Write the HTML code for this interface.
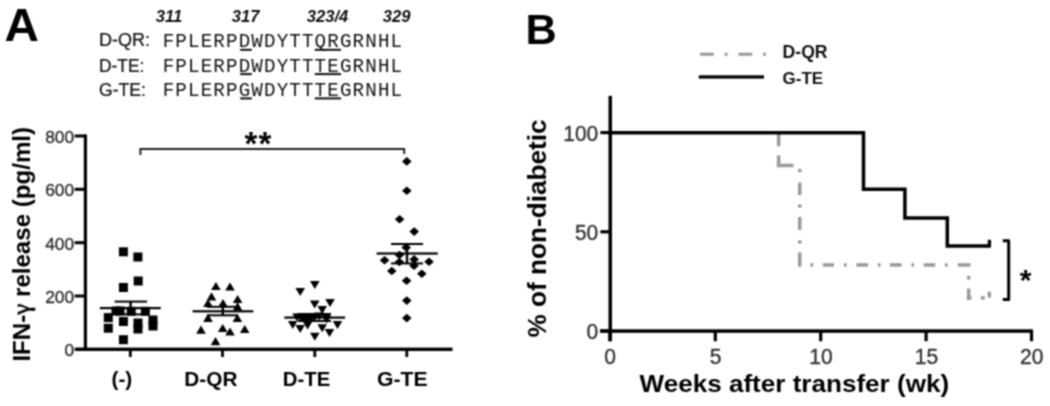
<!DOCTYPE html><html><head><meta charset="utf-8"><style>html,body{margin:0;padding:0;background:#fff;width:1050px;height:406px;overflow:hidden}svg{display:block}#w{filter:grayscale(1);width:1050px;height:406px}text{font-family:"Liberation Sans",sans-serif}.m{font-family:"Liberation Mono",monospace}</style></head><body>
<div id="w">
<svg width="1050" height="406" viewBox="0 0 1050 406">
<defs><filter id="bl" color-interpolation-filters="sRGB" x="0" y="0" width="1050" height="406" filterUnits="userSpaceOnUse"><feConvolveMatrix order="3" kernelMatrix="1 2 1 2 4 2 1 2 1" edgeMode="duplicate" preserveAlpha="true"/></filter></defs><g filter="url(#bl)"><rect width="1050" height="406" fill="#fff"/>
<text transform="translate(4.4,40.9) scale(1.03,1)" font-size="46.3" font-weight="bold" fill="#000">A</text>
<text x="155.7" y="21.9" font-size="16.6" font-weight="bold" font-style="italic" fill="#111">311</text>
<text x="231.8" y="21.9" font-size="16.6" font-weight="bold" font-style="italic" fill="#111">317</text>
<text x="306.8" y="21.9" font-size="16.6" font-weight="bold" font-style="italic" fill="#111">323/4</text>
<text x="382.7" y="21.9" font-size="16.6" font-weight="bold" font-style="italic" fill="#111">329</text>
<text transform="translate(99,45.9) scale(1,1.1)" font-size="17" fill="#111" stroke="#111" stroke-width="0.2" textLength="51.0" lengthAdjust="spacingAndGlyphs">D-QR:</text>
<text class="m" transform="translate(162.7,47.4) scale(1,1.08)" font-size="19.2" fill="#111" textLength="239.4" lengthAdjust="spacing">FPLERPDWDYTTQRGRNHL</text>
<rect x="240.2" y="48.8" width="11.6" height="2" fill="#111"/>
<rect x="314.8" y="48.8" width="26.2" height="2" fill="#111"/>
<text transform="translate(99,71.6) scale(1,1.1)" font-size="17" fill="#111" stroke="#111" stroke-width="0.2" textLength="45.3" lengthAdjust="spacingAndGlyphs">D-TE:</text>
<text class="m" transform="translate(162.7,71.7) scale(1,1.08)" font-size="19.2" fill="#111" textLength="239.4" lengthAdjust="spacing">FPLERPDWDYTTTEGRNHL</text>
<rect x="240.2" y="73.1" width="11.6" height="2" fill="#111"/>
<rect x="314.8" y="73.1" width="26.2" height="2" fill="#111"/>
<text transform="translate(99,95.9) scale(1,1.1)" font-size="17" fill="#111" stroke="#111" stroke-width="0.2" textLength="46.8" lengthAdjust="spacingAndGlyphs">G-TE:</text>
<text class="m" transform="translate(162.7,96.0) scale(1,1.08)" font-size="19.2" fill="#111" textLength="239.4" lengthAdjust="spacing">FPLERPGWDYTTTEGRNHL</text>
<rect x="240.2" y="97.4" width="11.6" height="2" fill="#111"/>
<rect x="314.8" y="97.4" width="26.2" height="2" fill="#111"/>
<rect x="83.8" y="134.5" width="3.2" height="216.4" fill="#000"/>
<rect x="74.7" y="347.8" width="11" height="3" fill="#000"/>
<text x="74.2" y="356.2" font-size="17.4" text-anchor="end" fill="#2a2a2a" stroke="#2a2a2a" stroke-width="0.3">0</text>
<rect x="74.7" y="294.5" width="11" height="3" fill="#000"/>
<text x="74.2" y="302.9" font-size="17.4" text-anchor="end" fill="#2a2a2a" stroke="#2a2a2a" stroke-width="0.3">200</text>
<rect x="74.7" y="241.2" width="11" height="3" fill="#000"/>
<text x="74.2" y="249.6" font-size="17.4" text-anchor="end" fill="#2a2a2a" stroke="#2a2a2a" stroke-width="0.3">400</text>
<rect x="74.7" y="187.8" width="11" height="3" fill="#000"/>
<text x="74.2" y="196.2" font-size="17.4" text-anchor="end" fill="#2a2a2a" stroke="#2a2a2a" stroke-width="0.3">600</text>
<rect x="74.7" y="134.5" width="11" height="3" fill="#000"/>
<text x="74.2" y="142.9" font-size="17.4" text-anchor="end" fill="#2a2a2a" stroke="#2a2a2a" stroke-width="0.3">800</text>
<rect x="75.8" y="347.6" width="376.7" height="3.4" fill="#000"/>
<rect x="128.9" y="349" width="2.8" height="8" fill="#000"/>
<rect x="221.1" y="349" width="2.8" height="8" fill="#000"/>
<rect x="313.4" y="349" width="2.8" height="8" fill="#000"/>
<rect x="405.4" y="349" width="2.8" height="8" fill="#000"/>
<text x="111.5" y="386.2" font-size="20.8" font-weight="bold" fill="#000">(-)</text>
<text x="184.3" y="386.2" font-size="20.8" font-weight="bold" fill="#000" textLength="53.2" lengthAdjust="spacingAndGlyphs">D-QR</text>
<text x="282.8" y="386.2" font-size="20.8" font-weight="bold" fill="#000" textLength="47.5" lengthAdjust="spacingAndGlyphs">D-TE</text>
<text x="377.0" y="386.2" font-size="20.8" font-weight="bold" fill="#000" textLength="50.6" lengthAdjust="spacingAndGlyphs">G-TE</text>
<text transform="translate(30.2,361.6) rotate(-90)" x="0" y="0" font-size="24.1" font-weight="bold" fill="#000">IFN-<tspan font-family="Liberation Serif" font-weight="normal" font-size="25" stroke="#000" stroke-width="0.6">γ</tspan> release (pg/ml)</text>
<path d="M140.4 155 V149.1 H404.2 V154" fill="none" stroke="#222" stroke-width="2"/>
<text x="250.9" y="154.6" font-size="33" font-weight="bold" fill="#000" text-anchor="middle">*</text>
<text x="264.8" y="154.6" font-size="33" font-weight="bold" fill="#000" text-anchor="middle">*</text>
<rect x="118.9" y="247.3" width="9" height="9" fill="#000"/>
<rect x="133.4" y="252.5" width="9" height="9" fill="#000"/>
<rect x="133.7" y="276.5" width="9" height="9" fill="#000"/>
<rect x="118.9" y="283.0" width="9" height="9" fill="#000"/>
<rect x="103.8" y="313.1" width="9" height="9" fill="#000"/>
<rect x="103.8" y="323.7" width="9" height="9" fill="#000"/>
<rect x="118.9" y="317.0" width="9" height="9" fill="#000"/>
<rect x="133.5" y="318.5" width="9" height="9" fill="#000"/>
<rect x="133.5" y="324.5" width="9" height="9" fill="#000"/>
<rect x="148.5" y="315.5" width="9" height="9" fill="#000"/>
<rect x="148.5" y="321.5" width="9" height="9" fill="#000"/>
<rect x="118.9" y="335.2" width="9" height="9" fill="#000"/>
<rect x="111.5" y="306.5" width="9" height="9" fill="#000"/>
<rect x="115.5" y="306.5" width="9" height="9" fill="#000"/>
<rect x="126.7" y="306.8" width="9" height="9" fill="#000"/>
<rect x="140.9" y="306.8" width="9" height="9" fill="#000"/>
<rect x="99.8" y="307.0" width="60.9" height="2.2" fill="#000"/><rect x="114.6" y="300.6" width="32.5" height="2" fill="#000"/><rect x="114.6" y="313.4" width="32.5" height="2" fill="#000"/><rect x="129.4" y="301.6" width="2.4" height="12.8" fill="#000"/>
<path d="M215.9 281.9 L220.7 290.1 L211.1 290.1Z" fill="#000"/>
<path d="M230.0 282.4 L234.8 290.6 L225.2 290.6Z" fill="#000"/>
<path d="M211.5 292.2 L216.3 300.4 L206.7 300.4Z" fill="#000"/>
<path d="M208.0 298.9 L212.8 307.1 L203.2 307.1Z" fill="#000"/>
<path d="M223.0 298.9 L227.8 307.1 L218.2 307.1Z" fill="#000"/>
<path d="M237.6 294.9 L242.4 303.1 L232.8 303.1Z" fill="#000"/>
<path d="M237.6 302.3 L242.4 310.5 L232.8 310.5Z" fill="#000"/>
<path d="M208.0 313.7 L212.8 321.9 L203.2 321.9Z" fill="#000"/>
<path d="M237.4 313.9 L242.2 322.1 L232.6 322.1Z" fill="#000"/>
<path d="M201.0 325.6 L205.8 333.8 L196.2 333.8Z" fill="#000"/>
<path d="M222.7 323.9 L227.5 332.1 L217.9 332.1Z" fill="#000"/>
<path d="M230.0 327.4 L234.8 335.6 L225.2 335.6Z" fill="#000"/>
<path d="M244.7 324.9 L249.5 333.1 L239.9 333.1Z" fill="#000"/>
<path d="M215.5 337.1 L220.3 345.3 L210.7 345.3Z" fill="#000"/>
<rect x="192.6" y="310.2" width="60.8" height="2.2" fill="#000"/><rect x="207" y="305.8" width="31.0" height="2" fill="#000"/><rect x="207" y="314.3" width="31.0" height="2" fill="#000"/><rect x="221.6" y="306.8" width="2.4" height="8.5" fill="#000"/>
<path d="M310.0 281.0 L319.6 281.0 L314.8 289.0Z" fill="#000"/>
<path d="M295.4 288.0 L305.0 288.0 L300.2 296.0Z" fill="#000"/>
<path d="M309.9 300.5 L319.5 300.5 L314.7 308.5Z" fill="#000"/>
<path d="M325.2 299.0 L334.8 299.0 L330.0 307.0Z" fill="#000"/>
<path d="M317.4 306.0 L327.0 306.0 L322.2 314.0Z" fill="#000"/>
<path d="M287.9 321.0 L297.5 321.0 L292.7 329.0Z" fill="#000"/>
<path d="M295.4 325.0 L305.0 325.0 L300.2 333.0Z" fill="#000"/>
<path d="M302.8 321.5 L312.4 321.5 L307.6 329.5Z" fill="#000"/>
<path d="M317.4 324.3 L327.0 324.3 L322.2 332.3Z" fill="#000"/>
<path d="M324.7 329.0 L334.3 329.0 L329.5 337.0Z" fill="#000"/>
<path d="M332.7 321.0 L342.3 321.0 L337.5 329.0Z" fill="#000"/>
<path d="M310.0 332.7 L319.6 332.7 L314.8 340.7Z" fill="#000"/>
<path d="M295.7 313.5 L305.3 313.5 L300.5 321.5Z" fill="#000"/>
<path d="M302.2 316.0 L311.8 316.0 L307.0 324.0Z" fill="#000"/>
<path d="M309.7 313.0 L319.3 313.0 L314.5 321.0Z" fill="#000"/>
<path d="M321.2 313.5 L330.8 313.5 L326.0 321.5Z" fill="#000"/>
<path d="M298.2 314.5 L307.8 314.5 L303.0 322.5Z" fill="#000"/>
<path d="M306.2 314.5 L315.8 314.5 L311.0 322.5Z" fill="#000"/>
<path d="M314.2 312.5 L323.8 312.5 L319.0 320.5Z" fill="#000"/>
<path d="M321.7 315.5 L331.3 315.5 L326.5 323.5Z" fill="#000"/>
<path d="M292.2 313.5 L301.8 313.5 L297.0 321.5Z" fill="#000"/>
<rect x="284.3" y="316.5" width="60.8" height="2.2" fill="#000"/><rect x="298" y="313.0" width="33.0" height="2" fill="#000"/><rect x="298" y="320.0" width="33.0" height="2" fill="#000"/><rect x="313.4" y="314.0" width="2.4" height="7.0" fill="#000"/>
<path d="M406.8 157.1 L411.6 161.4 L406.8 165.7 L402.0 161.4Z" fill="#000"/>
<path d="M406.8 186.4 L411.6 190.7 L406.8 195.0 L402.0 190.7Z" fill="#000"/>
<path d="M399.6 214.9 L404.4 219.2 L399.6 223.5 L394.8 219.2Z" fill="#000"/>
<path d="M414.2 227.3 L419.0 231.6 L414.2 235.9 L409.4 231.6Z" fill="#000"/>
<path d="M406.2 243.1 L411.0 247.4 L406.2 251.7 L401.4 247.4Z" fill="#000"/>
<path d="M399.4 250.7 L404.2 255.0 L399.4 259.3 L394.6 255.0Z" fill="#000"/>
<path d="M384.6 255.9 L389.4 260.2 L384.6 264.5 L379.8 260.2Z" fill="#000"/>
<path d="M414.2 255.1 L419.0 259.4 L414.2 263.7 L409.4 259.4Z" fill="#000"/>
<path d="M414.0 261.5 L418.8 265.8 L414.0 270.1 L409.2 265.8Z" fill="#000"/>
<path d="M399.4 257.7 L404.2 262.0 L399.4 266.3 L394.6 262.0Z" fill="#000"/>
<path d="M429.0 257.5 L433.8 261.8 L429.0 266.1 L424.2 261.8Z" fill="#000"/>
<path d="M391.8 266.7 L396.6 271.0 L391.8 275.3 L387.0 271.0Z" fill="#000"/>
<path d="M421.8 269.5 L426.6 273.8 L421.8 278.1 L417.0 273.8Z" fill="#000"/>
<path d="M406.6 276.5 L411.4 280.8 L406.6 285.1 L401.8 280.8Z" fill="#000"/>
<path d="M406.8 296.3 L411.6 300.6 L406.8 304.9 L402.0 300.6Z" fill="#000"/>
<path d="M406.8 313.8 L411.6 318.1 L406.8 322.4 L402.0 318.1Z" fill="#000"/>
<rect x="376.6" y="252.4" width="61.2" height="2.2" fill="#000"/><rect x="391" y="243.0" width="32.0" height="2" fill="#000"/><rect x="391" y="262.4" width="32.0" height="2" fill="#000"/><rect x="405.8" y="244.0" width="2.4" height="19.4" fill="#000"/>
<text x="525.6" y="44.1" font-size="43.2" font-weight="bold" fill="#000">B</text>
<path d="M700 54.2 H766" fill="none" stroke="#999" stroke-width="3" stroke-dasharray="13.8 10.8 3 10.8"/>
<rect x="698.8" y="75.3" width="65.2" height="3.3" fill="#000"/>
<text transform="translate(782.6,57.8) scale(1,1.05)" font-size="17" font-weight="bold" fill="#111" textLength="45" lengthAdjust="spacingAndGlyphs">D-QR</text>
<text x="782.5" y="83.8" font-size="17" font-weight="bold" fill="#111">G-TE</text>
<rect x="608.5" y="95.9" width="3.5" height="245.3" fill="#000"/>
<rect x="600" y="329.3" width="433" height="3.5" fill="#000"/>
<rect x="600.4" y="329.4" width="10" height="3.2" fill="#000"/>
<text transform="translate(598.2,339.2) scale(1.02,1.1)" font-size="20.5" text-anchor="end" fill="#333" stroke="#333" stroke-width="0.35">0</text>
<rect x="600.4" y="230.2" width="10" height="3.2" fill="#000"/>
<text transform="translate(598.2,240.0) scale(1.02,1.1)" font-size="20.5" text-anchor="end" fill="#333" stroke="#333" stroke-width="0.35">50</text>
<rect x="600.4" y="131.0" width="10" height="3.2" fill="#000"/>
<text transform="translate(598.2,140.8) scale(1.02,1.1)" font-size="20.5" text-anchor="end" fill="#333" stroke="#333" stroke-width="0.35">100</text>
<rect x="608.3" y="331" width="3.2" height="10.2" fill="#000"/>
<text transform="translate(610.2,363.6) scale(1.02,1.1)" font-size="20.6" text-anchor="middle" fill="#333" stroke="#333" stroke-width="0.35">0</text>
<rect x="713.7" y="331" width="3.2" height="10.2" fill="#000"/>
<text transform="translate(715.6,363.6) scale(1.02,1.1)" font-size="20.6" text-anchor="middle" fill="#333" stroke="#333" stroke-width="0.35">5</text>
<rect x="819.1" y="331" width="3.2" height="10.2" fill="#000"/>
<text transform="translate(821.0,363.6) scale(1.02,1.1)" font-size="20.6" text-anchor="middle" fill="#333" stroke="#333" stroke-width="0.35">10</text>
<rect x="924.5" y="331" width="3.2" height="10.2" fill="#000"/>
<text transform="translate(926.4,363.6) scale(1.02,1.1)" font-size="20.6" text-anchor="middle" fill="#333" stroke="#333" stroke-width="0.35">15</text>
<rect x="1029.9" y="331" width="3.2" height="10.2" fill="#000"/>
<text transform="translate(1031.8,363.6) scale(1.02,1.1)" font-size="20.6" text-anchor="middle" fill="#333" stroke="#333" stroke-width="0.35">20</text>
<text x="639.6" y="392.4" font-size="23.6" font-weight="bold" fill="#000" textLength="309.5" lengthAdjust="spacingAndGlyphs">Weeks after transfer (wk)</text>
<text transform="translate(545.8,337.5) rotate(-90)" x="0" y="0" font-size="26.18" font-weight="bold" fill="#000">% of non-diabetic</text>
<rect x="776.9" y="131.0" width="3.5" height="15.2" fill="#9a9a9a"/>
<rect x="776.9" y="155.4" width="3.5" height="11.8" fill="#9a9a9a"/>
<rect x="776.9" y="163.7" width="16.5" height="3.5" fill="#9a9a9a"/>
<rect x="798.0" y="169.0" width="3.5" height="3.2" fill="#9a9a9a"/>
<rect x="798.0" y="182.6" width="3.5" height="12.4" fill="#9a9a9a"/>
<rect x="798.0" y="204.4" width="3.5" height="3.2" fill="#9a9a9a"/>
<rect x="798.0" y="217.0" width="3.5" height="12.8" fill="#9a9a9a"/>
<rect x="798.0" y="240.4" width="3.5" height="3.2" fill="#9a9a9a"/>
<rect x="798.0" y="252.4" width="3.5" height="14.3" fill="#9a9a9a"/>
<rect x="810.4" y="263.2" width="2.8" height="3.5" fill="#9a9a9a"/>
<rect x="822.8" y="263.2" width="11.2" height="3.5" fill="#9a9a9a"/>
<rect x="844.0" y="263.2" width="2.6" height="3.5" fill="#9a9a9a"/>
<rect x="856.4" y="263.2" width="11.6" height="3.5" fill="#9a9a9a"/>
<rect x="877.8" y="263.2" width="2.8" height="3.5" fill="#9a9a9a"/>
<rect x="889.8" y="263.2" width="11.8" height="3.5" fill="#9a9a9a"/>
<rect x="911.4" y="263.2" width="2.6" height="3.5" fill="#9a9a9a"/>
<rect x="923.8" y="263.2" width="11.4" height="3.5" fill="#9a9a9a"/>
<rect x="945.0" y="263.2" width="2.6" height="3.5" fill="#9a9a9a"/>
<rect x="957.8" y="263.2" width="12.6" height="3.5" fill="#9a9a9a"/>
<rect x="966.9" y="275.9" width="3.5" height="3.6" fill="#9a9a9a"/>
<rect x="966.9" y="288.6" width="3.5" height="11.1" fill="#9a9a9a"/>
<rect x="966.9" y="296.2" width="4.6" height="3.5" fill="#9a9a9a"/>
<rect x="980.9" y="296.2" width="3.8" height="3.5" fill="#9a9a9a"/>
<rect x="987.6" y="291.6" width="3.4" height="6" fill="#9a9a9a"/>
<path d="M610 132.8 H863.5 V189.3 H904.9 V218 H947.3 V246 H989.4" fill="none" stroke="#000" stroke-width="3.5" stroke-linejoin="miter"/>
<path d="M989.4 247.5 V239.8" fill="none" stroke="#000" stroke-width="3.3"/>
<path d="M1002.8 240.8 H1008.7 V299.4 H1002.8" fill="none" stroke="#000" stroke-width="3" stroke-linejoin="round"/>
<text x="1025.6" y="290.2" font-size="30" font-weight="bold" fill="#000" text-anchor="middle">*</text>
</g></svg></div></body></html>
